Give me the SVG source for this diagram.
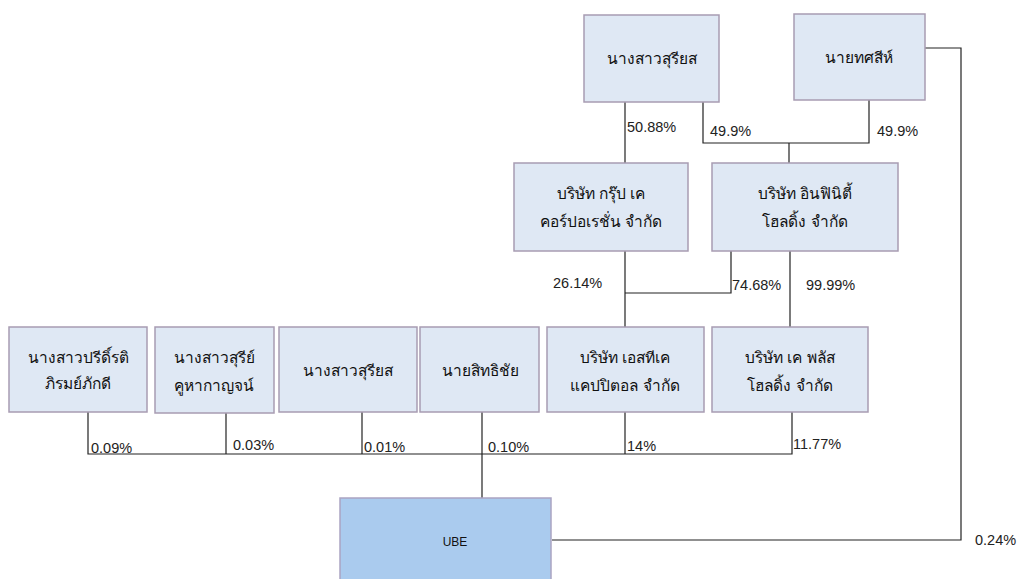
<svg xmlns="http://www.w3.org/2000/svg" width="1018" height="579" viewBox="0 0 1018 579">
<style>
.box{fill:#dfe8f4;stroke:#a89cb2;stroke-width:1.5}
.ube{fill:#aacbee;stroke:#aaa4c2;stroke-width:1.5}
.t{font-family:"Liberation Sans","Noto Sans",sans-serif;font-size:15.5px;fill:#111;text-anchor:middle;dominant-baseline:central}
.p{font-family:"Liberation Sans",Arial,sans-serif;font-size:14.5px;fill:#222;dominant-baseline:central}
.c{fill:none;stroke:#222;stroke-width:1.2}
</style>
<rect width="1018" height="579" fill="#fff"/>
<g id="connectors">
<path class="c" d="M625 102V327"/>
<path class="c" d="M703 102V143H869V100"/>
<path class="c" d="M789 143V163"/>
<path class="c" d="M731 251V293H625"/>
<path class="c" d="M790 251V327"/>
<path class="c" d="M925 48H961V540H552"/>
<path class="c" d="M88 412V454H792V412"/>
<path class="c" d="M226 413V454"/>
<path class="c" d="M362 412V454"/>
<path class="c" d="M482 412V498"/>
<path class="c" d="M625 412V454"/>
<text class="p" x="627" y="127">50.88%</text>
<text class="p" x="710" y="131">49.9%</text>
<text class="p" x="877" y="131">49.9%</text>
<text class="p" x="553" y="283">26.14%</text>
<text class="p" x="732" y="285">74.68%</text>
<text class="p" x="806" y="285">99.99%</text>
<text class="p" x="91" y="448">0.09%</text>
<text class="p" x="233" y="445">0.03%</text>
<text class="p" x="364" y="447">0.01%</text>
<text class="p" x="488" y="447">0.10%</text>
<text class="p" x="627" y="446">14%</text>
<text class="p" x="793" y="444">11.77%</text>
<text class="p" x="975" y="540">0.24%</text>
</g>
<g id="n-suriyos-top"><rect class="box" x="584" y="15" width="135" height="87"/><text class="t" x="652" y="58">นางสาวสุรียส</text></g>
<g id="n-thotsi"><rect class="box" x="794" y="14" width="131" height="86"/><text class="t" x="859" y="57">นายทศสีห์</text></g>
<g id="n-group-k"><rect class="box" x="514" y="163" width="174" height="88"/><text class="t" x="601" y="193">บริษัท กรุ๊ป เค</text><text class="t" x="601" y="221">คอร์ปอเรชั่น จำกัด</text></g>
<g id="n-infinity"><rect class="box" x="712" y="163" width="186" height="88"/><text class="t" x="805" y="193">บริษัท อินฟินิตี้</text><text class="t" x="805" y="221">โฮลดิ้ง จำกัด</text></g>
<g id="n-preedirat"><rect class="box" x="9" y="327" width="138" height="85"/><text class="t" x="78" y="357">นางสาวปรีดิ์รติ</text><text class="t" x="78" y="383">ภิรมย์ภักดี</text></g>
<g id="n-suree"><rect class="box" x="155" y="327" width="119" height="86"/><text class="t" x="214" y="357">นางสาวสุรีย์</text><text class="t" x="214" y="385">คูหากาญจน์</text></g>
<g id="n-suriyos"><rect class="box" x="279" y="327" width="138" height="85"/><text class="t" x="348" y="370">นางสาวสุรียส</text></g>
<g id="n-sitthichai"><rect class="box" x="420" y="327" width="119" height="85"/><text class="t" x="480" y="370">นายสิทธิชัย</text></g>
<g id="n-stk"><rect class="box" x="547" y="327" width="157" height="85"/><text class="t" x="625" y="357">บริษัท เอสทีเค</text><text class="t" x="625" y="385">แคปปิตอล จำกัด</text></g>
<g id="n-kplus"><rect class="box" x="712" y="327" width="156" height="85"/><text class="t" x="790" y="357">บริษัท เค พลัส</text><text class="t" x="790" y="385">โฮลดิ้ง จำกัด</text></g>
<g id="n-ube"><rect class="ube" x="340" y="498" width="211" height="90"/><text class="t" x="455" y="542" style="font-size:12px">UBE</text></g>
</svg>
